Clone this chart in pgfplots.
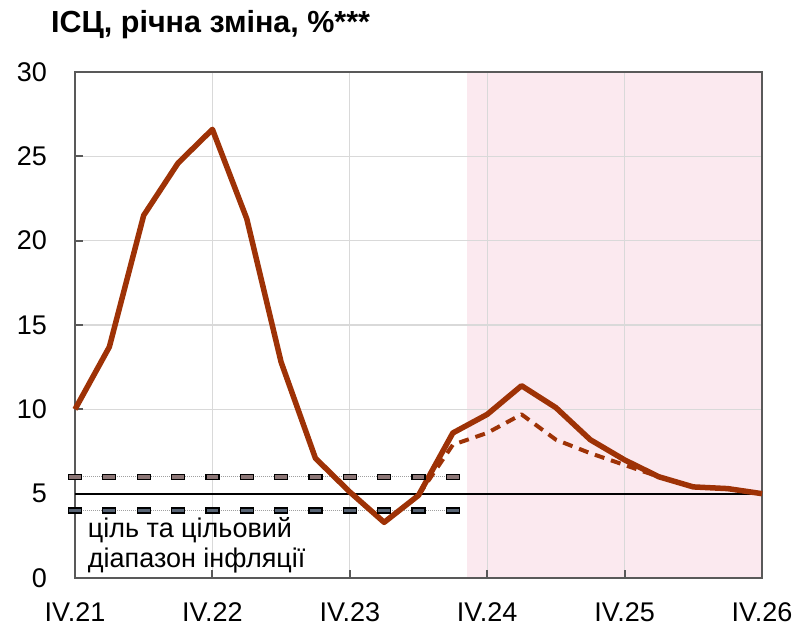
\documentclass[border=0pt]{standalone}
\usepackage{fontspec}
\setmainfont{Liberation Sans}
\usepackage{pgfplots}
\pgfplotsset{compat=1.18}
\definecolor{pinkc}{RGB}{251,233,239}
\definecolor{brownc}{RGB}{158,50,6}
\definecolor{gridc}{RGB}{217,217,217}
\definecolor{axisc}{RGB}{89,89,89}
\definecolor{upbox}{RGB}{140,118,118}
\definecolor{lowbox}{RGB}{88,100,116}
\definecolor{dotc}{RGB}{160,160,160}
\pgfdeclareplotmark{dashbox}{%
  \pgfpathrectangle{\pgfpoint{-6.5bp}{-2.5bp}}{\pgfpoint{13bp}{5bp}}%
  \pgfusepathqfillstroke}
\begin{document}
\begin{tikzpicture}
\pgfplotsset{set layers}
\begin{axis}[
  scale only axis, width=687bp, height=506bp,
  xmin=0, xmax=20, ymin=0, ymax=30,
  xtick={0,4,8,12,16,20},
  xticklabels={IV.21,IV.22,IV.23,IV.24,IV.25,IV.26},
  ytick={0,5,10,15,20,25,30},
  grid=major,
  grid style={line width=1.2bp, color=gridc},
  axis line style={line width=2.5bp, color=axisc},
  tick style={line width=2bp, color=axisc},
  major tick length=8bp,
  tick align=inside,
  xtick pos=bottom, ytick pos=left,
  tick label style={font=\fontsize{27bp}{32bp}\selectfont, inner sep=0pt},
  /pgf/number format/assume math mode=true,
  yticklabel style={xshift=-28bp},
  xticklabel style={yshift=-24bp},
  title={ІСЦ, річна зміна, \%***},
  title style={at={(0,1)}, anchor=base west, xshift=-24bp, yshift=34bp,
    font=\bfseries\fontsize{30.5bp}{34bp}\selectfont, inner sep=0pt},
  clip=false,
]
% forecast shading
\addplot[on layer=axis background, fill=pinkc, draw=none]
  coordinates {(11.4,0) (20,0) (20,30) (11.4,30)} -- cycle;
% target range
\addplot[dotc, line width=1bp, densely dotted] coordinates {(0,6) (11,6)};
\addplot[dotc, line width=1bp, densely dotted] coordinates {(0,4) (11,4)};
\addplot[only marks, mark=dashbox, mark options={draw=black, fill=upbox, line width=1.2bp}]
  coordinates {(0,6)(1,6)(2,6)(3,6)(4,6)(5,6)(6,6)(7,6)(8,6)(9,6)(10,6)(11,6)};
\addplot[only marks, mark=dashbox, mark options={draw=black, fill=lowbox, line width=1.2bp}]
  coordinates {(0,4)(1,4)(2,4)(3,4)(4,4)(5,4)(6,4)(7,4)(8,4)(9,4)(10,4)(11,4)};
% target
\addplot[black, line width=2bp] coordinates {(0,5) (20,5)};
% actual + forecast
\addplot[brownc, line width=5.5bp, line join=round] coordinates {
  (0,10.0)(1,13.7)(2,21.5)(3,24.6)(4,26.6)(5,21.3)(6,12.8)(7,7.1)(8,5.1)(9,3.3)
  (10,4.9)(11,8.6)(12,9.7)(13,11.4)(14,10.1)(15,8.2)(16,7.0)(17,6.0)(18,5.4)
  (19,5.3)(20,5.0)};
\addplot[brownc, line width=4bp, line join=round, dash pattern=on 10bp off 7bp] coordinates {
  (10,4.9)(11,7.9)(12,8.6)(13,9.7)(14,8.2)(15,7.4)(16,6.7)(17,6.0)(18,5.4)
  (19,5.3)(20,5.0)};
\node[anchor=base west, inner sep=0pt, font=\fontsize{27bp}{32bp}\selectfont]
  at (axis cs:0.37,2.43) {ціль та цільовий};
\node[anchor=base west, inner sep=0pt, font=\fontsize{27bp}{32bp}\selectfont]
  at (axis cs:0.37,0.65) {діапазон інфляції};
\end{axis}
\pgfresetboundingbox
\path ([xshift=-75bp,yshift=-50bp]current axis.south west) rectangle ([xshift=36bp,yshift=72bp]current axis.north east);
\end{tikzpicture}
\end{document}
